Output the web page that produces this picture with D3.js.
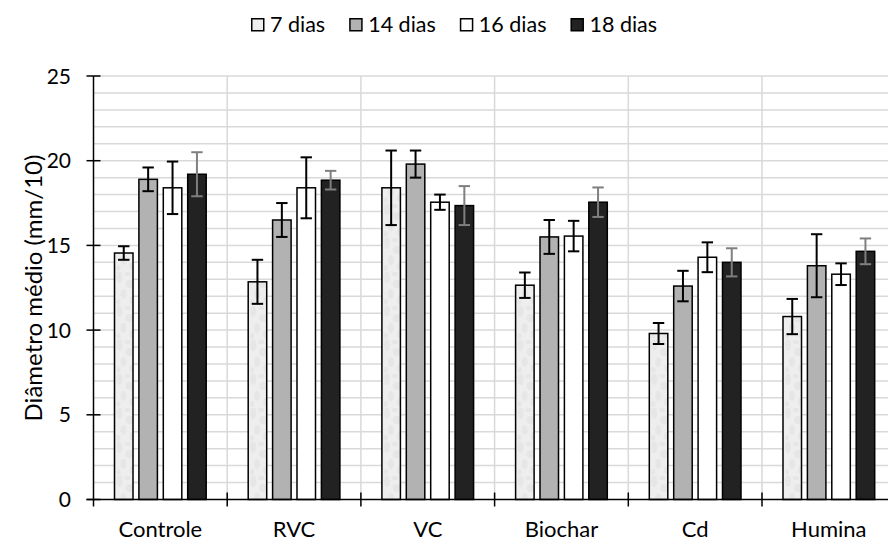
<!DOCTYPE html>
<html>
<head>
<meta charset="utf-8">
<script src="https://cdn.jsdelivr.net/npm/d3@7"></script>
<style>
  body { margin: 0; background: #fff; }
  svg { display: block; font-family: Lato, 'Open Sans', sans-serif; }
</style>
</head>
<body>
<svg id="chart" width="888" height="541"></svg>
<script>
// Diâmetro médio por tratamento e dia

const categories = ['Controle', 'RVC', 'VC', 'Biochar', 'Cd', 'Humina']
const series = ['7 dias', '14 dias', '16 dias', '18 dias']

const means = [
  [14.55, 18.9, 18.4, 19.2],   // Controle
  [12.85, 16.5, 18.4, 18.85],  // RVC
  [18.4, 19.8, 17.55, 17.35],  // VC
  [12.65, 15.5, 15.55, 17.55], // Biochar
  [9.8, 12.6, 14.3, 14.0],     // Cd
  [10.8, 13.8, 13.3, 14.65]    // Humina
]
const errors = [
  [0.4, 0.7, 1.55, 1.3],
  [1.3, 1.0, 1.8, 0.55],
  [2.2, 0.8, 0.45, 1.15],
  [0.75, 1.0, 0.9, 0.87],
  [0.62, 0.9, 0.88, 0.83],
  [1.04, 1.86, 0.64, 0.76]
]
const yTicks = [0, 5, 10, 15, 20, 25]

const fills = ['url(#mottle)', '#b2b2b2', '#ffffff', '#222222']
const errColors = ['#000', '#000', '#000', '#7f7f7f']

const svg = d3.select('#chart')
const margin = { top: 76, left: 93.5 }
const plotBottom = 499.5
const catWidth = 133.7

const x0 = d3.scaleBand()
  .domain(categories)
  .range([margin.left, margin.left + catWidth * categories.length])
  .padding(0)

const x1 = d3.scaleBand()
  .domain(series)
  .range([0, x0.bandwidth()])
  .paddingInner(0.18)
  .paddingOuter(0.83)

const y = d3.scaleLinear().domain([0, 25]).range([plotBottom, margin.top])

// mottled fill for 7 dias
const defs = svg.append('defs')
const pat = defs.append('pattern')
  .attr('id', 'mottle')
  .attr('patternUnits', 'userSpaceOnUse')
  .attr('width', 22).attr('height', 34)
pat.append('rect').attr('width', 22).attr('height', 34).attr('fill', '#eeeeee')
const blobs = [[4, 5, 3, 6], [14, 12, 4, 4], [8, 22, 3, 5], [17, 28, 3, 4], [3, 30, 2, 3], [12, 2, 3, 2]]
blobs.forEach(b => {
  pat.append('ellipse')
    .attr('cx', b[0]).attr('cy', b[1]).attr('rx', b[2]).attr('ry', b[3])
    .attr('fill', '#e6e6e6')
})

// gridlines
const grid = svg.append('g')
d3.range(1, 26).forEach(v => {
  grid.append('line')
    .attr('x1', margin.left).attr('x2', 888)
    .attr('y1', y(v)).attr('y2', y(v))
    .attr('stroke', '#d9d9d9').attr('stroke-width', 1.5)
})
categories.forEach(c => {
  const xb = x0(c) + x0.bandwidth()
  grid.append('line')
    .attr('x1', xb).attr('x2', xb)
    .attr('y1', margin.top).attr('y2', plotBottom)
    .attr('stroke', '#d9d9d9').attr('stroke-width', 1.5)
})

// bars
const groups = svg.append('g').selectAll('g')
  .data(categories)
  .join('g')
  .attr('transform', c => `translate(${x0(c)},0)`)

groups.each(function (c, ci) {
  const g = d3.select(this)
  series.forEach((s, si) => {
    const v = means[ci][si]
    g.append('rect')
      .attr('x', x1(s) + 0.75)
      .attr('y', y(v))
      .attr('width', x1.bandwidth() - 1.5)
      .attr('height', plotBottom - y(v))
      .attr('fill', fills[si])
      .attr('stroke', '#000')
      .attr('stroke-width', 1.5)
  })
  series.forEach((s, si) => {
    const v = means[ci][si]
    const e = errors[ci][si]
    const cx = x1(s) + x1.bandwidth() / 2
    const col = errColors[si]
    g.append('line')
      .attr('x1', cx).attr('x2', cx)
      .attr('y1', y(v + e)).attr('y2', y(v - e))
      .attr('stroke', col).attr('stroke-width', 2)
    ;[v + e, v - e].forEach(t => {
      g.append('line')
        .attr('x1', cx - 5.7).attr('x2', cx + 5.7)
        .attr('y1', y(t)).attr('y2', y(t))
        .attr('stroke', col).attr('stroke-width', 2)
    })
  })
})

// y axis
const yAxis = svg.append('g')
yAxis.append('line')
  .attr('x1', margin.left).attr('x2', margin.left)
  .attr('y1', margin.top).attr('y2', plotBottom)
  .attr('stroke', '#000').attr('stroke-width', 1.5)
yTicks.forEach(t => {
  yAxis.append('line')
    .attr('x1', margin.left - 7).attr('x2', margin.left + 7)
    .attr('y1', y(t)).attr('y2', y(t))
    .attr('stroke', '#000').attr('stroke-width', 1.5)
  yAxis.append('text')
    .attr('x', 71).attr('y', y(t) + 7.5)
    .attr('text-anchor', 'end')
    .attr('font-size', '21px')
    .attr('fill', '#000')
    .text(t)
})

// x axis
const xAxis = svg.append('g')
xAxis.append('line')
  .attr('x1', margin.left - 7).attr('x2', 888)
  .attr('y1', plotBottom).attr('y2', plotBottom)
  .attr('stroke', '#000').attr('stroke-width', 1.5)
xAxis.append('line')
  .attr('x1', margin.left).attr('x2', margin.left)
  .attr('y1', plotBottom).attr('y2', plotBottom + 7)
  .attr('stroke', '#000').attr('stroke-width', 1.5)
categories.forEach(c => {
  const xb = x0(c) + x0.bandwidth()
  xAxis.append('line')
    .attr('x1', xb).attr('x2', xb)
    .attr('y1', plotBottom - 7).attr('y2', plotBottom + 7)
    .attr('stroke', '#000').attr('stroke-width', 1.5)
  xAxis.append('text')
    .attr('x', x0(c) + x0.bandwidth() / 2)
    .attr('y', 537)
    .attr('text-anchor', 'middle')
    .attr('font-size', '22px')
    .attr('fill', '#000')
    .text(c)
})

// y title
svg.append('text')
  .attr('transform', 'translate(42,288) rotate(-90)')
  .attr('text-anchor', 'middle')
  .attr('font-size', '24px')
  .attr('fill', '#000')
  .text('Diâmetro médio (mm/10)')

// legend
const legend = svg.append('g')
let lx = 251
series.forEach((s, si) => {
  legend.append('rect')
    .attr('x', lx + 0.75).attr('y', 18.75)
    .attr('width', 12).attr('height', 12)
    .attr('fill', si === 0 ? '#eeeeee' : fills[si])
    .attr('stroke', '#000').attr('stroke-width', 1.5)
  const t = legend.append('text')
    .attr('x', lx + 19).attr('y', 31.5)
    .attr('font-size', '21.5px')
    .attr('fill', '#000')
    .text(s)
  lx += 19 + t.node().getComputedTextLength() + 24
})
</script>
</body>
</html>
